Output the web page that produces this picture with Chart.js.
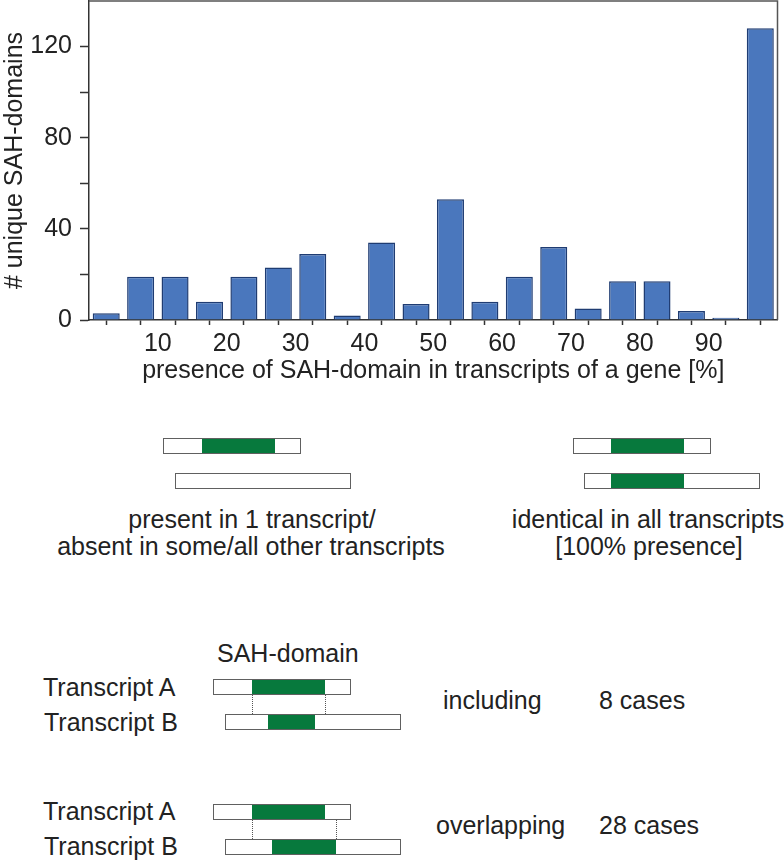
<!DOCTYPE html>
<html><head><meta charset="utf-8">
<script src="https://cdn.jsdelivr.net/npm/chart.js@4/dist/chart.umd.min.js"></script>
<style>
html,body{margin:0;padding:0;background:#fff;}
body{width:784px;height:861px;position:relative;overflow:hidden;font-family:"Liberation Sans",Arial,sans-serif;color:#222;}
#wrap{position:absolute;left:0;top:0;width:784px;height:400px;}
.t{position:absolute;font-size:25px;line-height:27px;white-space:nowrap;}
.c{text-align:center;width:400px;}
.box{position:absolute;height:16px;box-sizing:border-box;border:1.5px solid #606060;background:#fff;}
.g{position:absolute;top:0;bottom:0;background:#07793d;}
.dash{position:absolute;width:0;border-left:1px dotted #555;}
</style></head>
<body>
<div id="wrap"><canvas id="c" width="784" height="400"></canvas></div>

<!-- schematic legend diagrams -->
<div class="box" style="left:163px;top:438px;width:138px;"><div class="g" style="left:38px;width:73px;"></div></div>
<div class="box" style="left:175px;top:473px;width:176px;"></div>
<div class="t c" style="left:52px;top:506px;">present in 1 transcript/</div>
<div class="t c" style="left:51px;top:533px;">absent in some/all other transcripts</div>

<div class="box" style="left:573px;top:438px;width:138px;"><div class="g" style="left:37px;width:73px;"></div></div>
<div class="box" style="left:584px;top:473px;width:176px;"><div class="g" style="left:26px;width:73px;"></div></div>
<div class="t c" style="left:448px;top:506px;">identical in all transcripts</div>
<div class="t c" style="left:449px;top:533px;">[100% presence]</div>

<div class="t" style="left:217px;top:640px;">SAH-domain</div>

<div class="t" style="left:43px;top:674px;">Transcript A</div>
<div class="t" style="left:44px;top:709px;">Transcript B</div>
<div class="box" style="left:213px;top:679px;width:138px;"><div class="g" style="left:38px;width:73px;"></div></div>
<div class="dash" style="left:252px;top:695px;height:19px;"></div>
<div class="dash" style="left:325px;top:695px;height:19px;"></div>
<div class="box" style="left:225px;top:714px;width:176px;"><div class="g" style="left:42px;width:47px;"></div></div>
<div class="t" style="left:443px;top:687px;">including</div>
<div class="t" style="left:599px;top:687px;">8 cases</div>

<div class="t" style="left:43px;top:798px;">Transcript A</div>
<div class="t" style="left:44px;top:833px;">Transcript B</div>
<div class="box" style="left:213px;top:804px;width:138px;"><div class="g" style="left:38px;width:73px;"></div></div>
<div class="dash" style="left:252px;top:820px;height:19px;"></div>
<div class="dash" style="left:336px;top:820px;height:19px;"></div>
<div class="box" style="left:225px;top:839px;width:176px;"><div class="g" style="left:46px;width:64px;"></div></div>
<div class="t" style="left:436px;top:812px;">overlapping</div>
<div class="t" style="left:599px;top:812px;">28 cases</div>

<script>
// ---- data ----
const binCenters = [2.5, 7.5, 12.5, 17.5, 22.5, 27.5, 32.5, 37.5, 42.5, 47.5,
                    52.5, 57.5, 62.5, 67.5, 72.5, 77.5, 82.5, 87.5, 92.5, 97.5];
const counts     = [3, 19, 19, 8, 19, 23, 29, 2, 34, 7,
                    53, 8, 19, 32, 5, 17, 17, 4, 1, 128];
const xTickLabels = [10, 20, 30, 40, 50, 60, 70, 80, 90];
const yTickLabels = [0, 40, 80, 120];
const xTitle = 'presence of SAH-domain in transcripts of a gene [%]';
const yTitle = '# unique SAH-domains';

Chart.defaults.font.family = '"Liberation Sans", Arial, sans-serif';
Chart.defaults.color = '#222';

const framePlugin = {
  id: 'frame',
  afterDatasetsDraw(chart) {
    const {ctx, chartArea: a} = chart;
    ctx.save();
    ctx.strokeStyle = '#555';
    ctx.lineWidth = 1.5;
    ctx.beginPath();
    ctx.moveTo(a.left, a.top);
    ctx.lineTo(a.right, a.top);
    ctx.lineTo(a.right, a.bottom);
    ctx.stroke();
    ctx.restore();
  }
};

new Chart(document.getElementById('c'), {
  type: 'bar',
  data: {
    datasets: [{
      data: binCenters.map((x, i) => ({x: x, y: counts[i]})),
      backgroundColor: '#4a77bd',
      borderColor: '#1f3c72',
      borderWidth: 1.5,
      barPercentage: 1,
      categoryPercentage: 0.785
    }]
  },
  options: {
    responsive: false,
    animation: false,
    devicePixelRatio: 1,
    layout: {autoPadding: false, padding: {top: 1, right: 6.5, left: 0, bottom: 0}},
    plugins: {
      legend: {display: false},
      tooltip: {enabled: false}
    },
    scales: {
      x: {
        type: 'linear', min: 0, max: 100, offset: false,
        ticks: {
          stepSize: 5, autoSkip: false, maxRotation: 0, padding: 4,
          font: {size: 25}, color: '#222',
          callback: (v) => xTickLabels.includes(v) ? String(v) : ''
        },
        grid: {drawOnChartArea: false, drawTicks: true, tickLength: 5, tickColor: '#333', tickWidth: 1.5},
        border: {display: true, color: '#333', width: 1.5},
        title: {display: true, text: xTitle, font: {size: 25}, color: '#222', padding: {top: 0, bottom: 14}},
        afterFit: (s) => { s.height = 80; s.paddingLeft = 0; s.paddingRight = 0; }
      },
      y: {
        min: 0, max: 140,
        ticks: {
          stepSize: 20, padding: 8, font: {size: 25}, color: '#222',
          callback: (v) => yTickLabels.includes(v) ? String(v) : ''
        },
        grid: {
          drawOnChartArea: false, drawTicks: true, tickLength: 9, tickWidth: 1.5,
          tickColor: (c) => (c.tick && c.tick.value === 140) ? 'rgba(0,0,0,0)' : '#333'
        },
        border: {display: true, color: '#333', width: 1.5},
        title: {display: true, text: yTitle, font: {size: 25}, color: '#222', padding: {top: 0, bottom: 0}},
        afterFit: (s) => { s.width = 89; s.paddingTop = 0; s.paddingBottom = 0; }
      }
    }
  },
  plugins: [framePlugin]
});
</script>
</body></html>
